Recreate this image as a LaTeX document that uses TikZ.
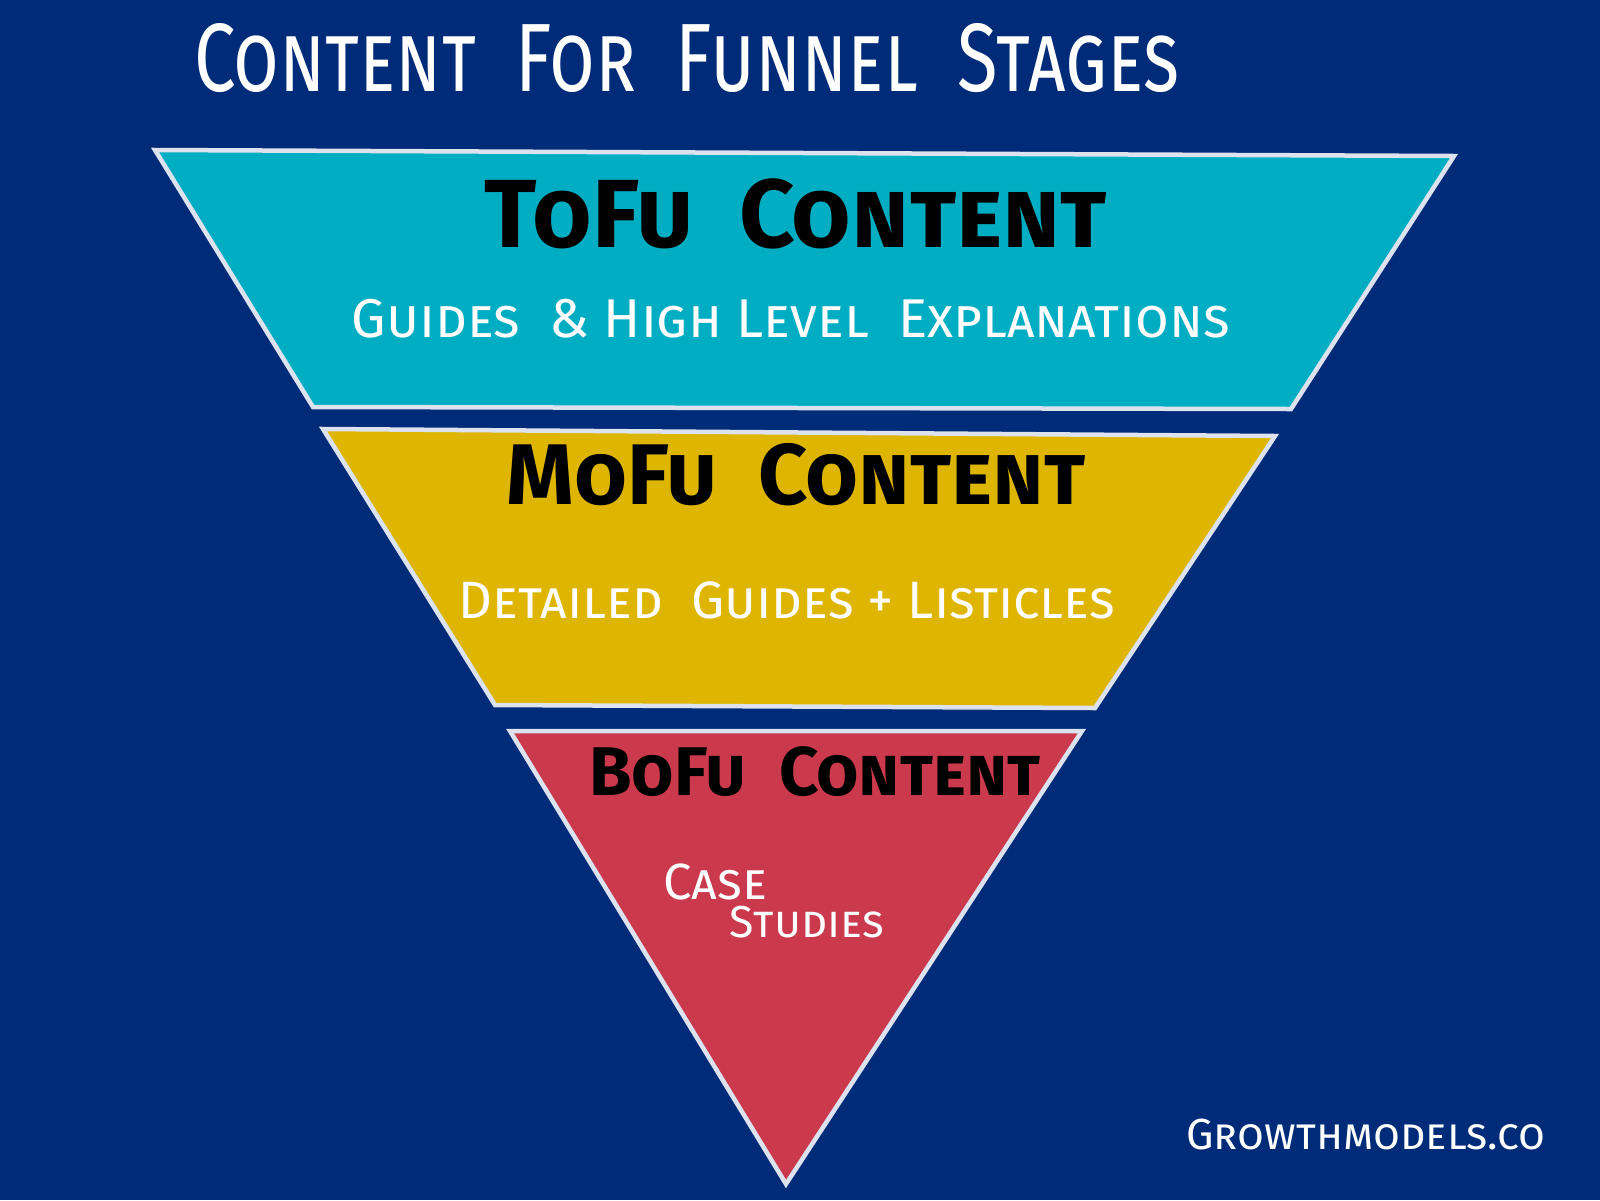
\documentclass[tikz,border=0pt]{standalone}
\usepackage{fontspec}
\usepackage{graphicx}
\setmainfont{Fira Sans}
\definecolor{bgblue}{HTML}{002B79}
\definecolor{tofu}{HTML}{00ADC2}
\definecolor{mofu}{HTML}{DEB500}
\definecolor{bofu}{HTML}{CB394D}
\definecolor{edge}{HTML}{DCE2EE}
\tikzset{
  stage/.style={draw=edge, line width=4.5pt, line join=miter},
  handw/.style={text=white, inner sep=0pt, font=\scshape},
  headw/.style={text=black, inner sep=0pt, font=\bfseries\scshape},
}
\begin{document}
\begin{tikzpicture}[x=1pt,y=-1pt]
\fill[bgblue] (0,0) rectangle (1600,1200);
\useasboundingbox (0,0) rectangle (1600,1200);
\filldraw[stage, fill=tofu] (155,150) -- (1454,156) -- (1291,409) -- (313,407) -- cycle;
\filldraw[stage, fill=mofu] (323,429) -- (1275,436) -- (1095,708) -- (495,705) -- cycle;
\filldraw[stage, fill=bofu] (510,731) -- (1082,731) -- (786,1184) -- cycle;
\node[handw] (title) at (687,58) {\resizebox{985pt}{68pt}{Content\ \ For\ \ Funnel\ \ Stages}};
\node[headw] (tofuh) at (796,214) {\resizebox{622pt}{!}{ToFu\ \ Content}};
\node[handw] (tofut) at (791,319) {\resizebox{878pt}{!}{Guides\ \ \&\ High\ Level\ \ Explanations}};
\node[headw] (mofuh) at (796,475) {\resizebox{578pt}{!}{MoFu\ \ Content}};
\node[handw] (mofut) at (787,600) {\resizebox{656pt}{!}{Detailed\ \ Guides\ + Listicles}};
\node[headw] (bofuh) at (815,772) {\resizebox{451pt}{!}{BoFu\ \ Content}};
\node[handw] (case) at (715,882) {\resizebox{104pt}{!}{Case}};
\node[handw] (studies) at (807,922) {\resizebox{154pt}{!}{Studies}};
\node[handw] (brand) at (1366,1134) {\resizebox{359pt}{!}{Growthmodels.co}};
\end{tikzpicture}
\end{document}
